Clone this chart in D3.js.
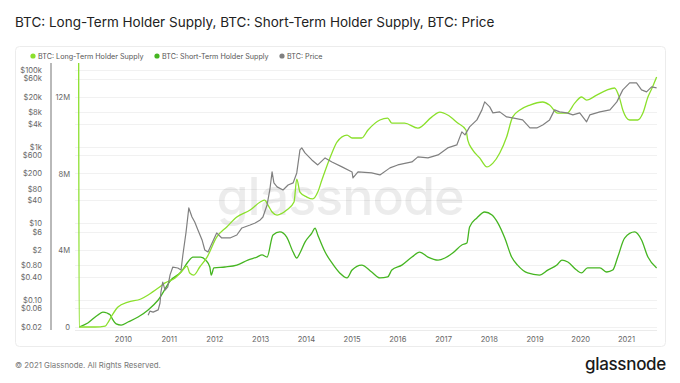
<!DOCTYPE html>
<html><head><meta charset="utf-8">
<script src="https://cdn.jsdelivr.net/npm/d3@7"></script>
<style>
html,body{margin:0;padding:0;background:#fff;}
svg{display:block;font-family:Inter,"Open Sans",sans-serif;}
</style></head>
<body><svg id="c" width="680" height="383"></svg>
<script>
// ---- data (decimal year, value) ----
const lthSupply = [ // millions of BTC
[2009.03,13.77],[2009.04,0],[2009.39,0],[2009.61,0.05],[2009.69,0.31],[2009.78,0.68],[2009.89,1.04],
[2010.11,1.30],[2010.39,1.46],[2010.55,1.67],[2010.77,2.03],[2010.92,2.30],[2011.14,2.56],[2011.31,2.97],
[2011.40,3.18],[2011.46,2.82],[2011.55,2.71],[2011.68,3.13],[2011.84,3.65],[2012.05,4.69],[2012.27,5.22],
[2012.49,5.74],[2012.78,6.10],[2013.00,6.52],[2013.10,6.62],[2013.17,6.36],[2013.26,6.00],[2013.37,5.84],
[2013.58,6.10],[2013.74,6.52],[2013.80,7.72],[2013.87,7.04],[2014.02,6.78],[2014.15,6.68],[2014.26,7.04],
[2014.35,7.67],[2014.57,9.08],[2014.68,9.65],[2014.90,10.01],[2015.01,9.86],[2015.22,9.86],[2015.36,10.28],
[2015.62,10.80],[2015.79,10.90],[2015.88,10.64],[2016.16,10.64],[2016.45,10.38],[2016.75,10.95],[2016.93,11.21],
[2017.10,11.06],[2017.32,10.64],[2017.50,10.28],[2017.54,9.75],[2017.65,9.23],[2017.80,8.82],[2017.96,8.35],
[2018.09,8.55],[2018.24,9.08],[2018.39,9.91],[2018.52,10.95],[2018.68,11.32],[2018.90,11.58],[2019.18,11.74],
[2019.33,11.58],[2019.51,11.16],[2019.71,11.16],[2019.88,11.68],[2020.03,12.00],[2020.14,11.84],[2020.36,12.10],
[2020.58,12.36],[2020.75,12.47],[2020.86,11.94],[2020.93,11.32],[2021.08,10.80],[2021.26,10.80],[2021.37,11.16],
[2021.48,12.00],[2021.58,12.52],[2021.67,13.04]
];
const sthSupply = [ // millions of BTC
[2009.04,0],[2009.23,0.21],[2009.45,0.63],[2009.56,0.78],[2009.65,0.73],[2009.72,0.63],[2009.78,0.37],
[2009.85,0.16],[2009.96,0.10],[2010.11,0.26],[2010.33,0.52],[2010.55,0.89],[2010.77,1.41],[2011.05,2.45],
[2011.27,2.87],[2011.42,3.39],[2011.53,3.65],[2011.70,3.65],[2011.81,3.49],[2011.90,3.13],[2011.93,2.71],
[2011.99,3.08],[2012.23,3.13],[2012.49,3.23],[2012.73,3.49],[2012.93,3.65],[2013.04,3.76],[2013.15,3.65],
[2013.28,4.80],[2013.43,4.96],[2013.58,4.69],[2013.72,3.91],[2013.80,3.60],[2013.87,3.86],[2013.98,4.43],
[2014.13,4.90],[2014.20,5.16],[2014.26,4.80],[2014.42,3.91],[2014.57,3.34],[2014.74,2.82],[2014.90,2.56],
[2015.01,2.97],[2015.22,3.23],[2015.44,2.87],[2015.62,2.56],[2015.79,2.61],[2015.88,2.97],[2016.10,3.23],
[2016.32,3.65],[2016.49,3.91],[2016.67,3.65],[2016.89,3.49],[2017.04,3.60],[2017.21,3.86],[2017.41,4.28],
[2017.52,4.38],[2017.58,5.22],[2017.74,5.69],[2017.91,6.00],[2018.07,5.84],[2018.20,5.42],[2018.35,4.64],
[2018.50,3.65],[2018.63,3.23],[2018.85,2.82],[2019.11,2.71],[2019.29,2.97],[2019.49,3.23],[2019.60,3.49],
[2019.73,3.39],[2019.92,2.97],[2020.03,2.82],[2020.16,3.08],[2020.43,3.08],[2020.58,2.87],[2020.71,2.97],
[2020.82,3.65],[2020.97,4.64],[2021.19,4.96],[2021.34,4.54],[2021.48,3.65],[2021.67,3.08]
];
const btcPrice = [ // USD
[2010.55,0.040],[2010.59,0.051],[2010.66,0.048],[2010.77,0.055],[2010.81,0.083],[2010.83,0.161],[2010.87,0.29],
[2010.92,0.18],[2010.98,0.22],[2011.03,0.45],[2011.09,0.72],[2011.20,0.68],[2011.27,0.60],[2011.31,1.49],
[2011.38,5.9],[2011.44,25.1],[2011.51,14.6],[2011.57,10.8],[2011.64,6.7],[2011.73,3.67],[2011.79,2.01],
[2011.86,1.78],[2011.95,3.06],[2012.05,5.6],[2012.16,4.14],[2012.34,4.14],[2012.49,4.95],[2012.60,7.55],
[2012.78,9.0],[2012.89,10.2],[2013.00,12.2],[2013.06,14.6],[2013.15,30.1],[2013.21,74],[2013.26,219],
[2013.30,113],[2013.37,89],[2013.50,74],[2013.61,100],[2013.72,113],[2013.80,206],[2013.87,822],
[2013.91,927],[2013.98,686],[2014.13,450],[2014.26,333],[2014.42,508],[2014.57,399],[2014.79,296],
[2015.01,219],[2015.03,153],[2015.14,219],[2015.44,206],[2015.62,183],[2015.84,279],[2016.01,333],
[2016.32,399],[2016.45,540],[2016.67,508],[2016.89,608],[2017.10,927],[2017.30,1109],[2017.41,2427],
[2017.48,2023],[2017.58,3273],[2017.74,4989],[2017.85,9100],[2017.91,14720],[2018.02,10900],[2018.09,7600],
[2018.24,8070],[2018.39,5970],[2018.52,5620],[2018.74,4989],[2018.90,3080],[2019.05,3080],[2019.18,3690],
[2019.33,4989],[2019.44,9100],[2019.55,8070],[2019.71,7600],[2019.84,6730],[2019.99,7600],[2020.14,4430],
[2020.21,6730],[2020.43,8070],[2020.65,9100],[2020.80,14720],[2020.93,30270],[2021.08,46100],[2021.23,46100],
[2021.34,30270],[2021.45,26850],[2021.56,36300],[2021.67,34100]
];
const priceTicks = [0.02,0.06,0.10,0.40,0.80,2,6,10,40,80,200,600,1000,4000,8000,20000,60000,100000];
const priceLabels = ["$0.02","$0.06","$0.10","$0.40","$0.80","$2","$6","$10","$40","$80","$200","$600","$1k","$4k","$8k","$20k","$60k","$100k"];
const supplyTicks = [0,4,8,12];
const supplyLabels = ["0","4M","8M","12M"];
const yearTicks = d3.range(2010,2022);
const seriesNames = ["BTC: Long-Term Holder Supply","BTC: Short-Term Holder Supply","BTC: Price"];
const seriesColors = ["#8be02c","#45b521","#808080"];
const titleText = "BTC: Long-Term Holder Supply, BTC: Short-Term Holder Supply, BTC: Price";

// ---- helpers ----
function toDate(t){const y=Math.floor(t);const a=Date.UTC(y,0,1),b=Date.UTC(y+1,0,1);return new Date(a+(t-y)*(b-a));}

const svg = d3.select("#c");
const x = d3.scaleUtc().domain([toDate(2010),toDate(2021)]).range([123,626]);
const ySup = d3.scaleLinear().domain([0,12]).range([327,97]);
const yPx = d3.scaleLog().domain([0.02,100000]).range([326.7,70]);

// card
svg.append("rect").attr("x",15.5).attr("y",46.5).attr("width",650).attr("height",300).attr("rx",4)
  .attr("fill","#fff").attr("stroke","#ececec");

// title
svg.append("text").attr("x",15).attr("y",27).attr("font-size",13.5).attr("fill","#222").text(titleText);

// legend
const legX = [33,157,282];
seriesNames.forEach((n,i)=>{
  svg.append("circle").attr("cx",legX[i]).attr("cy",56).attr("r",2.6).attr("fill",seriesColors[i]);
  svg.append("text").attr("x",legX[i]+5).attr("y",58.6).attr("font-size",7.2).attr("fill","#555").text(n);
});

// gridlines
svg.append("g").selectAll("line").data(priceTicks).join("line")
  .attr("x1",75).attr("x2",657).attr("y1",d=>Math.round(yPx(d))+0.5).attr("y2",d=>Math.round(yPx(d))+0.5)
  .attr("stroke","#f1f1f1").attr("stroke-width",1);
svg.append("line").attr("x1",75).attr("x2",657).attr("y1",330.5).attr("y2",330.5).attr("stroke","#ebebeb");

// watermark
svg.append("text").attr("x",340).attr("y",215).attr("text-anchor","middle").attr("font-size",52)
  .attr("font-weight",500).attr("fill","#000").attr("fill-opacity",0.075).attr("letter-spacing",-1).text("glassnode");

// price axis (left)
const gP = svg.append("g").attr("transform","translate(42,0)")
  .call(d3.axisLeft(yPx).tickValues(priceTicks).tickFormat((d,i)=>priceLabels[i]).tickSize(0).tickPadding(0));
gP.select(".domain").remove();
gP.selectAll("text").attr("font-size",7.6).attr("fill","#666").attr("font-family","Inter,'Open Sans',sans-serif");
svg.append("line").attr("x1",51).attr("x2",51).attr("y1",63).attr("y2",330).attr("stroke","#a8a8a8").attr("stroke-width",1.6);

// supply axis
const gS = svg.append("g").attr("transform","translate(70,0)")
  .call(d3.axisLeft(ySup).tickValues(supplyTicks).tickFormat((d,i)=>supplyLabels[i]).tickSize(0).tickPadding(0));
gS.select(".domain").remove();
gS.selectAll("text").attr("font-size",7.6).attr("fill","#666").attr("font-family","Inter,'Open Sans',sans-serif");

// x axis
const gX = svg.append("g").attr("transform","translate(0,337)")
  .call(d3.axisBottom(x).tickValues(yearTicks.map(toDate)).tickFormat(d3.utcFormat("%Y")).tickSize(0).tickPadding(0));
gX.select(".domain").remove();
gX.selectAll("text").attr("font-size",7.6).attr("fill","#666").attr("font-family","Inter,'Open Sans',sans-serif");

// lines
const lSup = d3.line().x(d=>x(toDate(d[0]))).y(d=>ySup(d[1])).curve(d3.curveMonotoneX);
const lPx = d3.line().x(d=>x(toDate(d[0]))).y(d=>yPx(d[1]));
svg.append("path").attr("d",lSup(sthSupply)).attr("fill","none").attr("stroke",seriesColors[1]).attr("stroke-width",1.3);
svg.append("path").attr("d",lSup(lthSupply)).attr("fill","none").attr("stroke",seriesColors[0]).attr("stroke-width",1.3);
svg.append("path").attr("d",lPx(btcPrice)).attr("fill","none").attr("stroke",seriesColors[2]).attr("stroke-width",1.2).attr("stroke-linejoin","round");

// footer
svg.append("text").attr("x",15).attr("y",368).attr("font-size",7.8).attr("fill","#777").text("© 2021 Glassnode. All Rights Reserved.");
svg.append("text").attr("x",666).attr("y",370).attr("text-anchor","end").attr("font-size",17).attr("font-weight",500).attr("fill","#1a1a1a").attr("letter-spacing",-0.3).text("glassnode");
</script></body></html>
